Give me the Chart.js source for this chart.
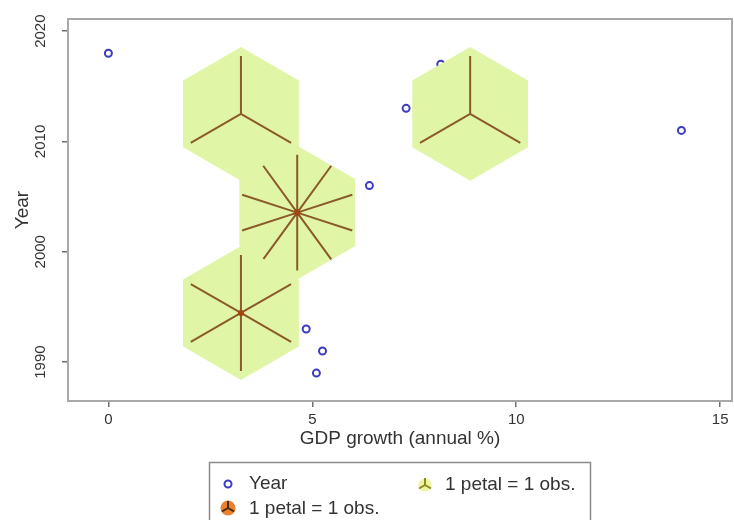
<!DOCTYPE html>
<html>
<head>
<meta charset="utf-8">
<script src="https://cdn.jsdelivr.net/npm/chart.js@4"></script>
<style>
  body { margin: 0; background: #fff; }
</style>
</head>
<body>
<canvas id="sunflowerChart" width="734" height="520"></canvas>
<script>
// observations (GDP growth vs year)
const yearGdp = [0, 8.15, 7.3, 14.05, 6.4, 4.85, 5.25, 5.1];
const yearValues = [2018, 2017, 2013, 2011, 2006, 1993, 1991, 1989];

// light sunflowers
const lightGdp = [3.25, 8.87];
const lightYear = [2012.5, 2012.5];
const lightPetals = [3, 3];

// dark sunflowers
const darkGdp = [4.63, 3.25];
const darkYear = [2003.55, 1994.45];
const darkPetals = [10, 6];

const xTicks = [0, 5, 10, 15];
const yTicks = [1990, 2000, 2010, 2020];

// hexagon size in data units
const HEX_HALF_W = 1.42;
const HEX_R = 6.07;

const TEXT = '#333333';
const FONT = "'Liberation Sans', Arial, sans-serif";

function toPoints(xs, ys) {
    return xs.map(function (v, i) { return { x: v, y: ys[i] }; });
}

const boxPlugin = {
    id: 'plotBox',
    beforeDatasetsDraw(chart) {
        const { ctx, chartArea: a } = chart;
        ctx.save();
        ctx.strokeStyle = '#a8a8a8';
        ctx.lineWidth = 2;
        ctx.strokeRect(a.left, a.top, a.right - a.left, a.bottom - a.top);
        ctx.restore();
    }
};

const sunflowerPlugin = {
    id: 'sunflowers',
    afterDatasetsDraw(chart) {
        const { ctx, scales: { x, y } } = chart;
        chart.data.datasets.forEach(function (ds, i) {
            if (!ds.petals) return;
            const meta = chart.getDatasetMeta(i);
            meta.data.forEach(function (pt, j) {
                const v = ds.data[j];
                const cx = pt.x, cy = pt.y;
                const hw = x.getPixelForValue(v.x + HEX_HALF_W) - cx;
                const r = y.getPixelForValue(v.y - HEX_R) - cy;
                ctx.save();
                ctx.fillStyle = '#e1f5a6';
                ctx.beginPath();
                ctx.moveTo(cx, cy - r);
                ctx.lineTo(cx + hw, cy - r / 2);
                ctx.lineTo(cx + hw, cy + r / 2);
                ctx.lineTo(cx, cy + r);
                ctx.lineTo(cx - hw, cy + r / 2);
                ctx.lineTo(cx - hw, cy - r / 2);
                ctx.closePath();
                ctx.fill();

                const n = ds.petals[j];
                ctx.strokeStyle = '#8a5a2a';
                ctx.lineWidth = 2;
                ctx.lineCap = 'butt';
                ctx.beginPath();
                for (let k = 0; k < n; k++) {
                    const ang = Math.PI / 2 + 2 * Math.PI * k / n;
                    ctx.moveTo(cx, cy);
                    ctx.lineTo(cx + hw * Math.cos(ang), cy - hw * Math.sin(ang));
                }
                ctx.stroke();

                if (ds.dark) {
                    ctx.fillStyle = '#a4440e';
                    ctx.beginPath();
                    ctx.arc(cx, cy, 3, 0, 2 * Math.PI);
                    ctx.fill();
                }
                ctx.restore();
            });
        });
    }
};

function drawFlowerIcon(ctx, cx, cy, rad, fill, petal, len) {
    ctx.fillStyle = fill;
    ctx.beginPath();
    ctx.arc(cx, cy, rad, 0, 2 * Math.PI);
    ctx.fill();
    ctx.strokeStyle = petal;
    ctx.lineWidth = 2;
    ctx.beginPath();
    for (let k = 0; k < 3; k++) {
        const ang = Math.PI / 2 + 2 * Math.PI * k / 3;
        ctx.moveTo(cx, cy);
        ctx.lineTo(cx + len * Math.cos(ang), cy - len * Math.sin(ang));
    }
    ctx.stroke();
}

const legendPlugin = {
    id: 'boxLegend',
    afterDraw(chart) {
        const ctx = chart.ctx;
        ctx.save();
        ctx.strokeStyle = '#8c8c8c';
        ctx.lineWidth = 1.5;
        ctx.strokeRect(209.5, 462.5, 381, 70);

        // Year marker
        ctx.strokeStyle = '#3b3bc4';
        ctx.lineWidth = 2;
        ctx.beginPath();
        ctx.arc(228, 484, 3.5, 0, 2 * Math.PI);
        ctx.stroke();

        drawFlowerIcon(ctx, 425, 485, 6.5, '#eef59a', '#8a8a2a', 7);
        drawFlowerIcon(ctx, 228, 508, 7.5, '#e8822e', '#4a2a12', 7);

        ctx.fillStyle = TEXT;
        ctx.font = '19px ' + FONT;
        ctx.textBaseline = 'middle';
        ctx.textAlign = 'left';
        ctx.fillText('Year', 249, 484);
        ctx.fillText('1 petal = 1 obs.', 445, 485);
        ctx.fillText('1 petal = 1 obs.', 249, 509);
        ctx.restore();
    }
};

document.addEventListener('DOMContentLoaded', function () {
    const ctx = document.getElementById('sunflowerChart').getContext('2d');
    const sunflowerChart = new Chart(ctx, {
        type: 'scatter',
        data: {
            datasets: [{
                label: 'Year',
                data: toPoints(yearGdp, yearValues),
                pointStyle: 'circle',
                pointRadius: 3.5,
                pointBorderWidth: 2,
                borderColor: '#3b3bc4',
                backgroundColor: 'rgba(0,0,0,0)'
            }, {
                label: 'light',
                data: toPoints(lightGdp, lightYear),
                petals: lightPetals,
                dark: false,
                pointRadius: 0
            }, {
                label: 'dark',
                data: toPoints(darkGdp, darkYear),
                petals: darkPetals,
                dark: true,
                pointRadius: 0
            }]
        },
        options: {
            responsive: false,
            animation: false,
            events: [],
            layout: {
                autoPadding: false,
                padding: { top: 19, right: 2, left: 0, bottom: 0 }
            },
            scales: {
                x: {
                    type: 'linear',
                    min: -0.99,
                    max: 15.29,
                    afterBuildTicks: function (scale) {
                        scale.ticks = xTicks.map(function (v) { return { value: v }; });
                    },
                    afterFit: function (scale) {
                        scale.height = 119;
                        scale.paddingLeft = 0;
                        scale.paddingRight = 0;
                    },
                    grid: {
                        display: true,
                        drawOnChartArea: false,
                        drawTicks: true,
                        tickLength: 6,
                        color: '#707070',
                        lineWidth: 1.5
                    },
                    border: { display: true, color: '#707070', width: 2 },
                    ticks: {
                        color: TEXT,
                        font: { family: FONT, size: 15 },
                        padding: 4,
                        maxRotation: 0,
                        autoSkip: false,
                        callback: function (v) { return String(v); }
                    },
                    title: {
                        display: true,
                        text: 'GDP growth (annual %)',
                        color: TEXT,
                        font: { family: FONT, size: 19 },
                        padding: { top: 0, bottom: 70 }
                    }
                },
                y: {
                    type: 'linear',
                    min: 1986.47,
                    max: 2021.1,
                    afterBuildTicks: function (scale) {
                        scale.ticks = yTicks.map(function (v) { return { value: v }; });
                    },
                    afterFit: function (scale) {
                        scale.width = 68;
                        scale.paddingTop = 0;
                        scale.paddingBottom = 0;
                    },
                    grid: {
                        display: true,
                        drawOnChartArea: false,
                        drawTicks: true,
                        tickLength: 6,
                        color: '#707070',
                        lineWidth: 1.5
                    },
                    border: { display: true, color: '#707070', width: 2 },
                    ticks: {
                        color: TEXT,
                        font: { family: FONT, size: 15 },
                        padding: 4,
                        minRotation: 90,
                        maxRotation: 90,
                        crossAlign: 'center',
                        autoSkip: false,
                        callback: function (v) { return String(v); }
                    },
                    title: {
                        display: true,
                        text: 'Year',
                        color: TEXT,
                        font: { family: FONT, size: 19 },
                        padding: { top: 11, bottom: 0 }
                    }
                }
            },
            plugins: {
                legend: { display: false },
                tooltip: { enabled: false }
            }
        },
        plugins: [boxPlugin, sunflowerPlugin, legendPlugin]
    });
});
</script>
</body>
</html>
